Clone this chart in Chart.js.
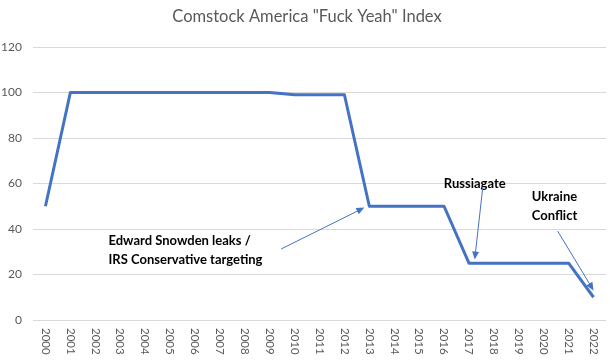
<!DOCTYPE html>
<html>
<head>
<meta charset="utf-8">
<script src="https://cdn.jsdelivr.net/npm/chart.js@4/dist/chart.umd.min.js"></script>
<style>
  html, body { margin: 0; padding: 0; background: #fff; }
  #wrap { width: 610px; height: 360px; }
</style>
</head>
<body>
<div id="wrap"><canvas id="fyChart"></canvas></div>
<script>
// Donnees du graphique
const years = ["2000", "2001", "2002", "2003", "2004", "2005", "2006", "2007", "2008", "2009", "2010",
  "2011", "2012", "2013", "2014", "2015", "2016", "2017", "2018", "2019", "2020", "2021", "2022"]
const indexValues = [50, 100, 100, 100, 100, 100, 100, 100, 100, 100, 99,
  99, 99, 50, 50, 50, 50, 25, 25, 25, 25, 25, 10]
const yTicks = [0, 20, 40, 60, 80, 100, 120]
const chartTitle = 'Comstock America "Fuck Yeah" Index'

// Annotations (positions en unites de donnees : index de categorie, valeur)
const notes = [
  { lines: ["Edward Snowden leaks /", "IRS Conservative targeting"], at: [2.53, 34.6], from: [9.46, 31.2], to: [12.8, 49.4] },
  { lines: ["Russiagate"], at: [15.99, 59.8], from: [17.55, 58], to: [17.23, 26.6] },
  { lines: ["Ukraine", "Conflict"], at: [19.52, 54.1], from: [20.56, 39.1], to: [22, 13] },
]

const blue = "#4472C4"
const grey = "#595959"
const font = "Lato, 'Open Sans', sans-serif"

// Titre, etiquettes verticales et fleches
const decorPlugin = {
  id: "decor",
  afterDraw(chart) {
    const ctx = chart.ctx
    const x = chart.scales.x
    const y = chart.scales.y
    ctx.save()

    ctx.fillStyle = grey
    ctx.font = "16.5px " + font
    ctx.textAlign = "center"
    ctx.textBaseline = "middle"
    ctx.fillText(chartTitle, 307, 17)

    // annees, lues de haut en bas
    ctx.font = "11.5px " + font
    ctx.textAlign = "left"
    years.forEach((label, i) => {
      ctx.save()
      ctx.translate(x.getPixelForValue(i), chart.chartArea.bottom + 8)
      ctx.rotate(Math.PI / 2)
      ctx.fillText(label, 0, 0)
      ctx.restore()
    })

    notes.forEach((n) => {
      ctx.fillStyle = "#000"
      ctx.font = "bold 13px " + font
      ctx.textAlign = "left"
      ctx.textBaseline = "middle"
      const tx = x.getPixelForValue(n.at[0])
      const ty = y.getPixelForValue(n.at[1])
      n.lines.forEach((l, k) => ctx.fillText(l, tx, ty + k * 18.5))

      const x1 = x.getPixelForValue(n.from[0])
      const y1 = y.getPixelForValue(n.from[1])
      const x2 = x.getPixelForValue(n.to[0])
      const y2 = y.getPixelForValue(n.to[1])
      const a = Math.atan2(y2 - y1, x2 - x1)
      const headLen = 8
      ctx.strokeStyle = blue
      ctx.fillStyle = blue
      ctx.lineWidth = 1
      ctx.beginPath()
      ctx.moveTo(x1, y1)
      ctx.lineTo(x2 - Math.cos(a) * headLen * 0.8, y2 - Math.sin(a) * headLen * 0.8)
      ctx.stroke()
      ctx.beginPath()
      ctx.moveTo(x2, y2)
      ctx.lineTo(x2 - headLen * Math.cos(a) + 3.5 * Math.sin(a), y2 - headLen * Math.sin(a) - 3.5 * Math.cos(a))
      ctx.lineTo(x2 - headLen * Math.cos(a) - 3.5 * Math.sin(a), y2 - headLen * Math.sin(a) + 3.5 * Math.cos(a))
      ctx.closePath()
      ctx.fill()
    })
    ctx.restore()
  },
}

new Chart(document.getElementById("fyChart"), {
  type: "line",
  data: {
    labels: years,
    datasets: [
      {
        data: indexValues,
        borderColor: blue,
        borderWidth: 3,
        pointRadius: 0,
        tension: 0,
        borderJoinStyle: "round",
        borderCapStyle: "butt",
      },
    ],
  },
  options: {
    responsive: true,
    maintainAspectRatio: false,
    animation: false,
    layout: { padding: { top: 47, bottom: 40, left: 0, right: 4 } },
    plugins: {
      legend: { display: false },
      title: { display: false },
      tooltip: { enabled: false },
    },
    scales: {
      x: {
        offset: true,
        grid: { display: false },
        border: { display: false },
        ticks: { display: false },
        afterFit: (s) => { s.height = 0 },
      },
      y: {
        min: yTicks[0],
        max: yTicks[yTicks.length - 1],
        afterBuildTicks: (s) => { s.ticks = yTicks.map((v) => ({ value: v })) },
        grid: { color: "#d9d9d9", drawTicks: false, lineWidth: 1 },
        border: { display: false },
        ticks: { color: grey, padding: 11, font: { family: font, size: 12 } },
        afterFit: (s) => { s.width = 33 },
      },
    },
  },
  plugins: [decorPlugin],
})
</script>
</body>
</html>
